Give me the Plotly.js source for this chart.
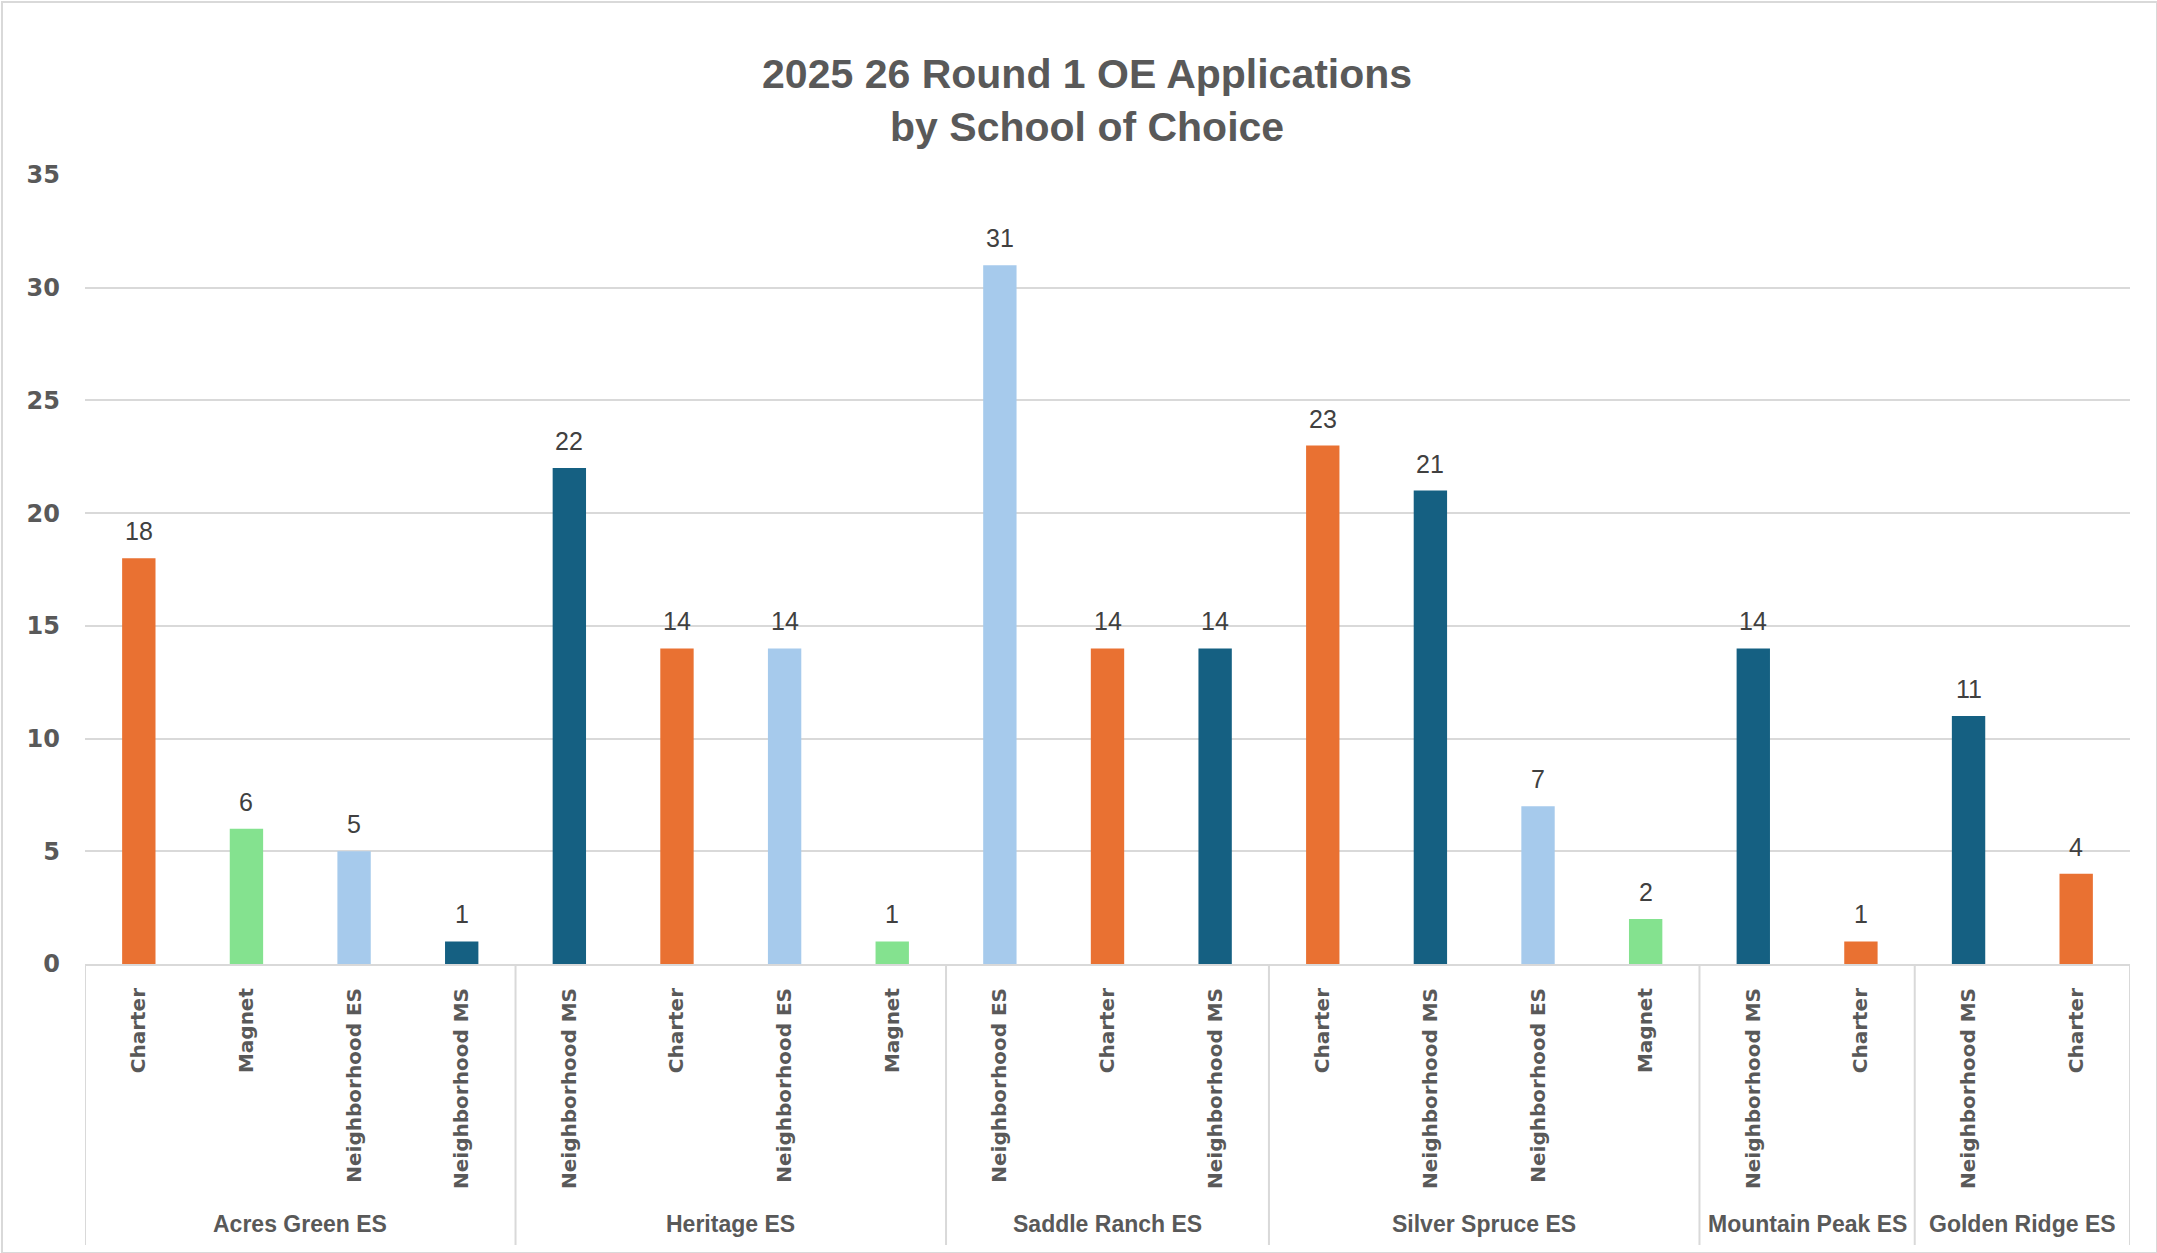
<!DOCTYPE html>
<html>
<head>
<meta charset="utf-8">
<script src="https://cdn.plot.ly/plotly-3.0.1.min.js"></script>
<style>
  html, body { margin: 0; padding: 0; background: #ffffff; }
  #chart { width: 2157px; height: 1253px; }
  #frame { position: absolute; left: 1px; top: 1px; width: 2153px; height: 1249px; border: 2px solid #d9d9d9; pointer-events: none; box-sizing: content-box; }
</style>
</head>
<body>
<div id="chart"></div>
<div id="frame"></div>
<script>
// ---- Data ----
const schools = [
  "Acres Green ES", "Acres Green ES", "Acres Green ES", "Acres Green ES",
  "Heritage ES", "Heritage ES", "Heritage ES", "Heritage ES",
  "Saddle Ranch ES", "Saddle Ranch ES", "Saddle Ranch ES",
  "Silver Spruce ES", "Silver Spruce ES", "Silver Spruce ES", "Silver Spruce ES",
  "Mountain Peak ES", "Mountain Peak ES",
  "Golden Ridge ES", "Golden Ridge ES"
];
const choices = [
  "Charter", "Magnet", "Neighborhood ES", "Neighborhood MS",
  "Neighborhood MS", "Charter", "Neighborhood ES", "Magnet",
  "Neighborhood ES", "Charter", "Neighborhood MS",
  "Charter", "Neighborhood MS", "Neighborhood ES", "Magnet",
  "Neighborhood MS", "Charter",
  "Neighborhood MS", "Charter"
];
const applications = [18, 6, 5, 1, 22, 14, 14, 1, 31, 14, 14, 23, 21, 7, 2, 14, 1, 11, 4];

const choiceColors = {
  "Charter": "#E97132",
  "Magnet": "#84E28F",
  "Neighborhood ES": "#A6CAEC",
  "Neighborhood MS": "#156082"
};

// unique category keys (school + choice), shown as the choice name
const keys = schools.map((s, i) => s + " | " + choices[i]);

// group ranges (by index) derived from the schools array
const groups = [];
schools.forEach((s, i) => {
  const g = groups[groups.length - 1];
  if (g && g.name === s) g.end = i;
  else groups.push({ name: s, start: i, end: i });
});

const GRID = "#d9d9d9";
const TXT = "#595959";

const trace = {
  type: "bar",
  x: keys,
  y: applications,
  marker: { color: choices.map(c => choiceColors[c]) },
  hoverinfo: "x+y"
};

const annotations = [];
// value labels above bars
keys.forEach((k, i) => {
  annotations.push({
    x: k, xref: "x", y: applications[i], yref: "y",
    text: String(applications[i]),
    showarrow: false, xanchor: "center", yanchor: "middle", yshift: 27,
    font: { family: "Liberation Sans, Arial, sans-serif", size: 25, color: "#404040" }
  });
});
// group (school) labels
groups.forEach(g => {
  annotations.push({
    x: (g.start + g.end) / 2, xref: "x", y: 0, yref: "paper",
    text: g.name,
    showarrow: false, xanchor: "center", yanchor: "middle", yshift: -260,
    font: { family: "Liberation Sans, Arial, sans-serif", size: 23, color: TXT, weight: "bold" }
  });
});

// group dividers
const shapes = [];
const bounds = groups.map(g => g.start - 0.5).concat([groups[groups.length - 1].end + 0.5]);
bounds.forEach(b => {
  shapes.push({
    type: "line", xref: "x", x0: b, x1: b,
    yref: "paper", ysizemode: "pixel", yanchor: 0, y0: 0, y1: -281,
    line: { color: GRID, width: 2 }
  });
});

const layout = {
  width: 2157,
  height: 1253,
  paper_bgcolor: "#ffffff",
  plot_bgcolor: "#ffffff",
  margin: { l: 85, r: 27, t: 175, b: 289 },
  bargap: 0.69,
  showlegend: false,
  title: {
    text: "2025 26 Round 1 OE Applications<br>by School of Choice",
    font: { family: "Liberation Sans, Arial, sans-serif", size: 41, color: TXT, weight: "bold" },
    x: 0.504, xref: "container", xanchor: "center",
    y: 0.93, yref: "container", yanchor: "top"
  },
  xaxis: {
    type: "category",
    tickmode: "array",
    tickvals: keys,
    ticktext: choices,
    tickangle: -90,
    ticklabelstandoff: 14,
    tickfont: { family: "DejaVu Sans, Verdana, sans-serif", size: 20, color: TXT, weight: "bold" },
    showline: true,
    linecolor: GRID,
    linewidth: 2,
    ticks: "",
    showgrid: false,
    range: [-0.5, keys.length - 0.5]
  },
  yaxis: {
    range: [0, 35],
    dtick: 5,
    tick0: 0,
    showgrid: true,
    gridcolor: GRID,
    gridwidth: 2,
    zeroline: false,
    showline: false,
    ticks: "",
    ticklabelstandoff: 24,
    tickfont: { family: "DejaVu Sans, Verdana, sans-serif", size: 24, color: TXT, weight: "bold" }
  },
  annotations: annotations,
  shapes: shapes
};

Plotly.newPlot("chart", [trace], layout, { displayModeBar: false, staticPlot: true });
</script>
</body>
</html>
